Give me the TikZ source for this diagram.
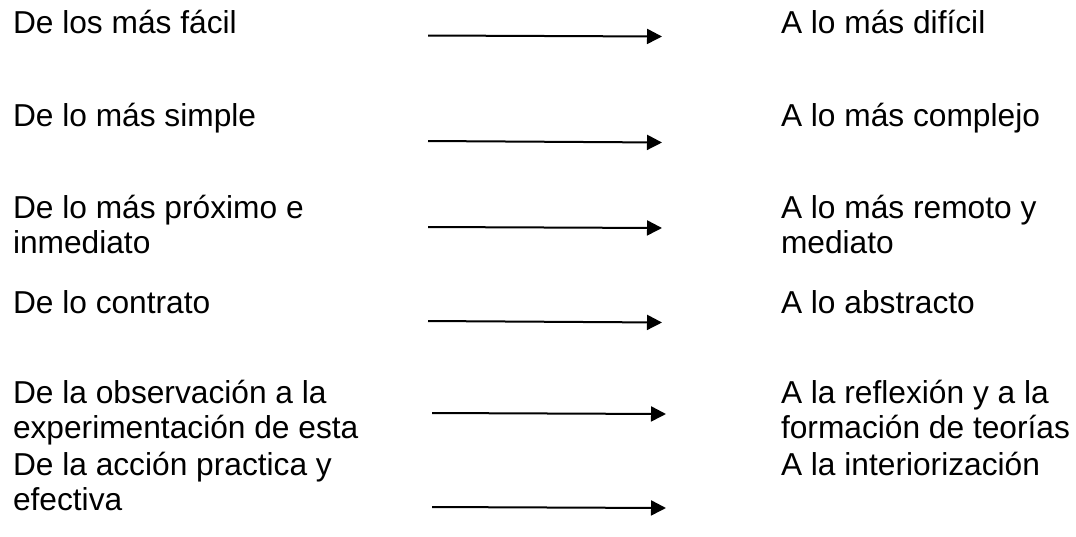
\documentclass[tikz,border=0pt]{standalone}
\usepackage{fontspec}
\setmainfont{Liberation Sans}
\usetikzlibrary{arrows.meta}
\begin{document}
\begin{tikzpicture}[x=1pt,y=-1pt,
  lbl/.style={anchor=base west,inner sep=0pt,outer sep=0pt,font=\fontsize{31.7}{35.5}\selectfont},
  conn/.style={line width=2pt,-{Triangle[length=15pt,width=15pt]}}]
\useasboundingbox[fill=white] (0,0) rectangle (1076,536);
\newcommand{\twolines}[2]{\begin{tabular}[t]{@{}l@{}}#1\\#2\end{tabular}}
% left column
\node[lbl] (l1) at (13,33) {De los más fácil};
\node[lbl] (l2) at (13,126) {De lo más simple};
\node[lbl] (l3) at (13,218) {\twolines{De lo más próximo e}{inmediato}};
\node[lbl] (l4) at (13,313) {De lo contrato};
\node[lbl] (l5) at (13,403) {\twolines{De la observación a la}{experimentación de esta}};
\node[lbl] (l6) at (13,475) {\twolines{De la acción practica y}{efectiva}};
% right column
\node[lbl] (r1) at (781,33) {A lo más difícil};
\node[lbl] (r2) at (781,126) {A lo más complejo};
\node[lbl] (r3) at (781,218) {\twolines{A lo más remoto y}{mediato}};
\node[lbl] (r4) at (781,313) {A lo abstracto};
\node[lbl] (r5) at (781,403) {\twolines{A la reflexión y a la}{formación de teorías}};
\node[lbl] (r6) at (781,475) {A la interiorización};
% arrow ends
\coordinate (a1s) at (428,35.5);  \coordinate (a1e) at (662,36.5);
\coordinate (a2s) at (428,141);   \coordinate (a2e) at (662,142.5);
\coordinate (a3s) at (428,227);   \coordinate (a3e) at (662,228);
\coordinate (a4s) at (428,321);   \coordinate (a4e) at (662,322.5);
\coordinate (a5s) at (432,413);   \coordinate (a5e) at (666,414);
\coordinate (a6s) at (432,507);   \coordinate (a6e) at (666,508);
\draw[conn] (a1s) -- (a1e);
\draw[conn] (a2s) -- (a2e);
\draw[conn] (a3s) -- (a3e);
\draw[conn] (a4s) -- (a4e);
\draw[conn] (a5s) -- (a5e);
\draw[conn] (a6s) -- (a6e);
\end{tikzpicture}
\end{document}
